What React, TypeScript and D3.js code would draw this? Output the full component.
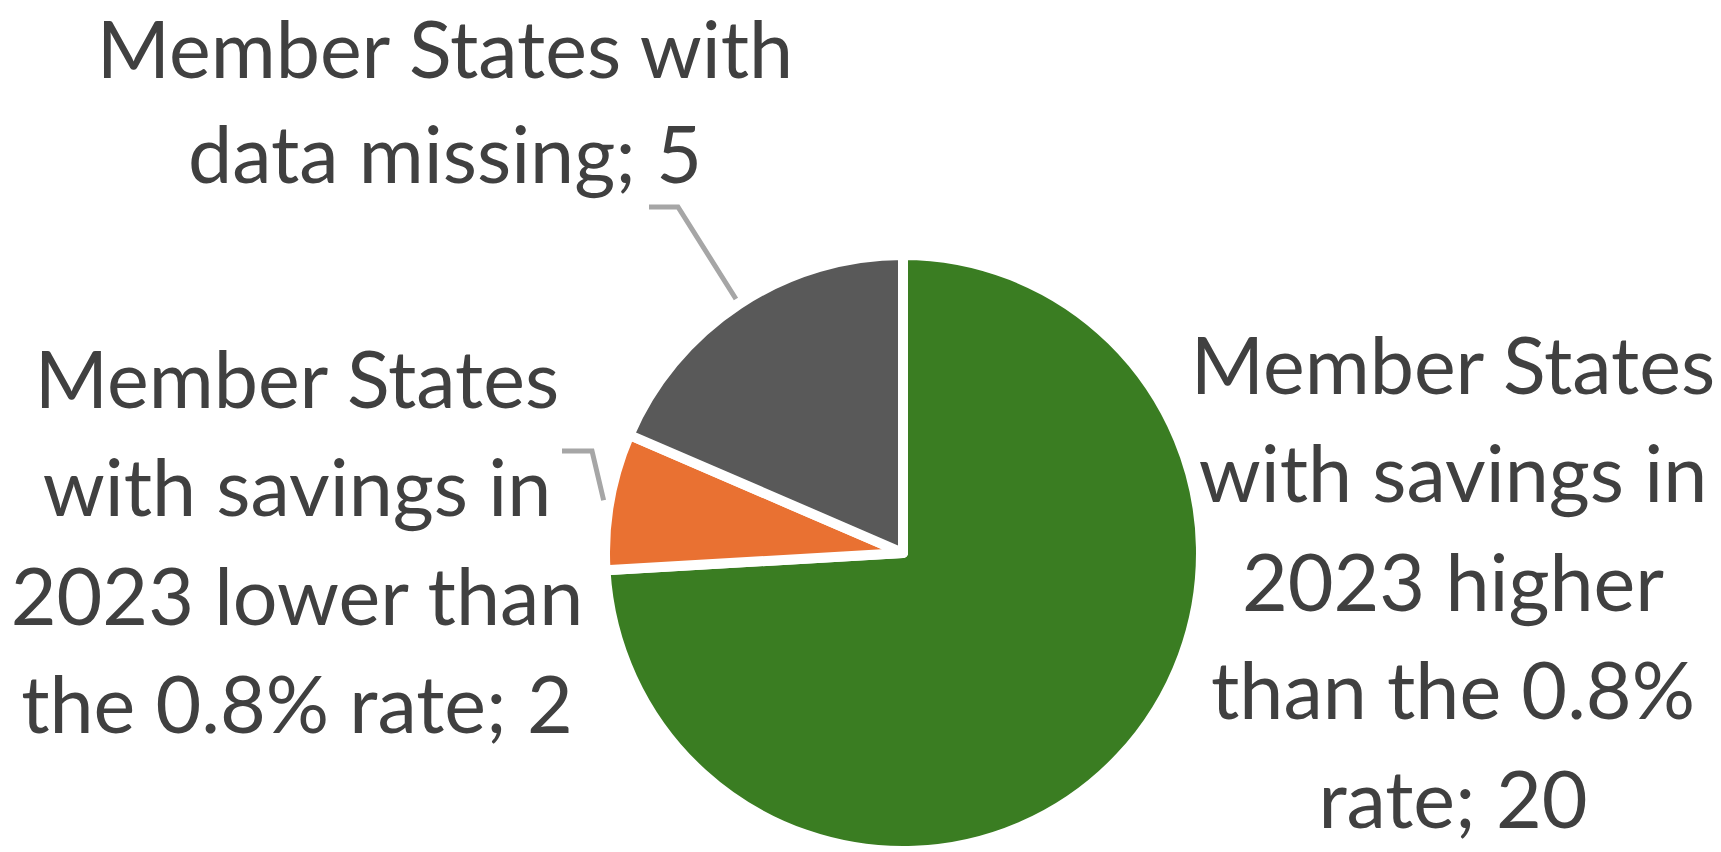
import * as d3 from "d3";

// data
const categories = [
  "Member States with savings in 2023 higher than the 0.8% rate",
  "Member States with savings in 2023 lower than the 0.8% rate",
  "Member States with data missing",
];
const values = [20, 2, 5];
const colors = ["#3A7D22", "#E97132", "#595959"];
const labelLines = [
  ["Member States", "with savings in", "2023 higher", "than the 0.8%", "rate; 20"],
  ["Member States", "with savings in", "2023 lower than", "the 0.8% rate; 2"],
  ["Member States with", "data missing; 5"],
];

const W = 1721;
const H = 852;

export default function App() {
  const cx = 903;
  const cy = 553;
  const r = 298;

  const pie = d3.pie<number>().sort(null).value((d) => d);
  const arcs = pie(values);
  const arc = d3.arc<d3.PieArcDatum<number>>().innerRadius(0).outerRadius(r);
  const edge = d3.arc<d3.PieArcDatum<number>>().innerRadius(r + 6).outerRadius(r + 6);

  // label placement: text centre x, first baseline, line step; leader elbow (if any)
  const labelPos = [
    { x: 1453, y: 394, step: 108.4, leader: null as null | [number, number][] },
    { x: 297, y: 408, step: 108.4, leader: [[562, 451], [592, 451]] as [number, number][] },
    { x: 445, y: 78, step: 105, leader: [[649, 207], [678, 207]] as [number, number][] },
  ];

  return (
    <svg
      width={W}
      height={H}
      style={{ position: "absolute", left: 0, top: 0, background: "#fff" }}
    >
      <g transform={`translate(${cx},${cy})`}>
        {arcs.map((a, i) => (
          <path key={i} d={arc(a) || ""} fill={colors[i]} stroke="#fff" strokeWidth={10} strokeLinejoin="round" />
        ))}
      </g>
      {arcs.map((a, i) => {
        const lp = labelPos[i];
        if (!lp.leader) return null;
        const [ex, ey] = edge.centroid(a);
        const pts = [...lp.leader, [cx + ex, cy + ey]];
        return (
          <polyline
            key={"l" + i}
            points={pts.map((p) => p.join(",")).join(" ")}
            fill="none"
            stroke="#A6A6A6"
            strokeWidth={5}
          />
        );
      })}
      {labelLines.map((lines, i) => (
        <text
          key={"t" + i}
          textAnchor="middle"
          fontFamily="Lato, 'Noto Sans', sans-serif"
          fontSize={79}
          fill="#404040"
        >
          <title>{categories[i]}</title>
          {lines.map((ln, j) => (
            <tspan key={j} x={labelPos[i].x} y={labelPos[i].y + j * labelPos[i].step}>
              {ln}
            </tspan>
          ))}
        </text>
      ))}
    </svg>
  );
}
